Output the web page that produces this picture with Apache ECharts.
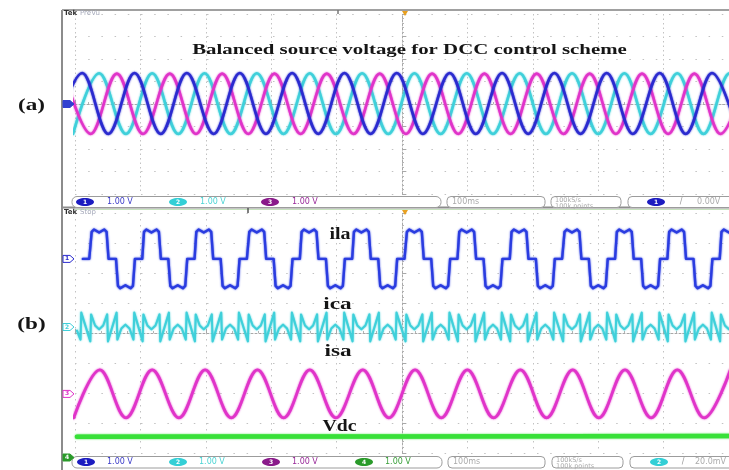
<!DOCTYPE html>
<html>
<head>
<meta charset="utf-8">
<title>DCC control scheme waveforms</title>
<script src="https://cdn.jsdelivr.net/npm/echarts@6/dist/echarts.min.js"></script>
<style>
html,body{margin:0;padding:0;background:#fff;}
#chart{width:729px;height:470px;}
</style>
</head>
<body>
<div id="chart"></div>
<script>
// Time in ms (100 ms/div); every channel at 1.00 V/div.
const timeRange = [-500, 500];
const timePerDiv = 100;
const voltRange = [-4, 4];
const voltPerDiv = 1;

// (a) balanced three-phase source voltages: successive peaks and troughs [t, V]
const vsaExtrema = [[-530,-1.33],[-489,1.38],[-449,-1.33],[-409,1.38],[-369,-1.33],[-329,1.38],[-288,-1.33],[-248,1.38],[-208,-1.33],[-168,1.38],[-128,-1.33],[-88,1.38],[-48,-1.33],[-8,1.38],[32,-1.33],[73,1.38],[113,-1.33],[153,1.38],[193,-1.33],[233,1.38],[273,-1.33],[313,1.38],[353,-1.33],[394,1.38],[434,-1.33],[474,1.38],[514,-1.33]];
const vsbExtrema = [[-503,-1.33],[-463,1.37],[-422,-1.33],[-382,1.37],[-342,-1.33],[-302,1.37],[-262,-1.33],[-222,1.37],[-181,-1.33],[-141,1.37],[-101,-1.33],[-61,1.37],[-21,-1.33],[19,1.37],[59,-1.33],[99,1.37],[139,-1.33],[180,1.37],[220,-1.33],[260,1.37],[300,-1.33],[340,1.37],[380,-1.33],[421,1.37],[461,-1.33],[501,1.37],[541,-1.33]];
const vscExtrema = [[-516,1.35],[-476,-1.33],[-436,1.35],[-396,-1.33],[-355,1.35],[-315,-1.33],[-275,1.35],[-235,-1.33],[-195,1.35],[-155,-1.33],[-115,1.35],[-74,-1.33],[-34,1.35],[6,-1.33],[46,1.35],[86,-1.33],[126,1.35],[166,-1.33],[206,1.35],[247,-1.33],[287,1.35],[327,-1.33],[367,1.35],[407,-1.33],[447,1.35],[487,-1.33],[527,1.35]];

// (b) load current: rising-edge times of each cycle and the shape of one cycle [dt, V]
const cycleStart = [-557,-476,-396,-316,-235,-155,-75,6,86,166,247,327,407,487];
const ilaShape = [[-1.5,0],[1.5,0.9],[5,0.98],[12.9,0.88],[20.8,0.98],[24.3,0.9],[27.3,0],[38.7,0],[41.7,-0.9],[45.2,-0.98],[53.1,-0.88],[61,-0.98],[64.6,-0.9],[67.6,0],[78.8,0]];
// compensating current, one cycle [dt, V]
const icaShape = [[-0.6,-0.48],[0.6,0.42],[6.7,0.05],[12.9,-0.08],[19.1,0.05],[25.2,0.42],[26.4,-0.48],[39.6,0.48],[40.8,-0.42],[46.9,-0.05],[53.1,0.08],[59.3,-0.05],[65.4,-0.42],[66.6,0.48]];
// source current peaks and troughs [t, V]
const isaExtrema = [[-502,-0.8],[-462,0.8],[-422,-0.8],[-382,0.8],[-341,-0.8],[-301,0.8],[-261,-0.8],[-221,0.8],[-181,-0.8],[-141,0.8],[-101,-0.8],[-60,0.8],[-20,-0.8],[20,0.8],[60,-0.8],[100,0.8],[140,-0.8],[181,0.8],[221,-0.8],[261,0.8],[301,-0.8],[341,0.8],[381,-0.8],[421,0.8],[462,-0.8],[502,0.8]];
// DC-link voltage [t, V]
const vdcLevel = [[-497,0.69],[-250,0.70],[0,0.70],[250,0.71],[500,0.72]];

// channel ground positions (divisions from screen centre)
const chPosA = [0, 0, 0];
const chPosB = {ila: 2.47, ica: 0.2, isa: -2.03, vdc: -4.15};

// readouts
const scaleA = ['1.00 V', '1.00 V', '1.00 V'];
const scaleB = ['1.00 V', '1.00 V', '1.00 V', '1.00 V'];
const timebase = '100ms';
const sampleInfo = ['100kS/s', '100k points'];
const triggerA = '0.00V';
const triggerB = '20.0mV';

const COL = {
  ch1: '#2b2bcf', ch2: '#3fd0da', ch3: '#e034c9', ch4: '#38e038',
  ila: '#2a3ce0', badge1: '#1c1cc0', badge2: '#34cfd6', badge3: '#8a1a8a', badge4: '#2a9a2a',
  txt1: '#3a3ac8', txt2: '#4cd4d4', txt3: '#9a2a9a', txt4: '#3aa03a'
};

function tile(starts, shape, from) {
  const out = [];
  starts.forEach(s => shape.forEach(([dt, v]) => {
    const t = s + dt;
    if (t >= from) out.push([+t.toFixed(1), v]);
  }));
  return out;
}
const shift = (pts, off) => pts.map(([t, v]) => [t, +(v + off).toFixed(3)]);

const ilaData = shift([[-488, 0]].concat(tile(cycleStart, ilaShape, -488)), chPosB.ila);
const icaData = shift([[-497, -0.12]].concat(tile(cycleStart, icaShape, -497)), chPosB.ica);
const isaData = shift(isaExtrema, chPosB.isa);
const vdcData = shift(vdcLevel, chPosB.vdc);

function xAx(gi, vStep) {
  return {
    type: 'value', gridIndex: gi, min: timeRange[0], max: timeRange[1], interval: timePerDiv,
    axisLabel: {show: false},
    axisLine: {show: true, onZero: true, lineStyle: {color: '#a8a8a8', width: 1, type: [2, 2]}},
    axisTick: {show: true, inside: true, length: 4, lineStyle: {color: '#a8a8a8'}},
    minorTick: {show: true, splitNumber: 5, length: 2, lineStyle: {color: '#b4b4b4'}},
    splitLine: {show: true, lineStyle: {color: '#c2c2c2', width: 1, type: [1.5, vStep - 1.5]}}
  };
}
function yAx(gi) {
  return {
    type: 'value', gridIndex: gi, min: voltRange[0], max: voltRange[1], interval: voltPerDiv,
    axisLabel: {show: false},
    axisLine: {show: true, onZero: true, lineStyle: {color: '#a8a8a8', width: 1, type: [2, 2]}},
    axisTick: {show: true, inside: true, length: 4, lineStyle: {color: '#a8a8a8'}},
    minorTick: {show: true, splitNumber: 5, length: 2, lineStyle: {color: '#b4b4b4'}},
    splitLine: {show: true, lineStyle: {color: '#c2c2c2', width: 1, type: [1.5, 11.7]}}
  };
}
function trace(data, color, width, gi, smooth, z) {
  return {
    type: 'line', xAxisIndex: gi, yAxisIndex: gi, data, showSymbol: false, symbol: 'none',
    smooth: smooth, clip: true, animation: false, silent: true, z: z || 3,
    lineStyle: {color, width, shadowBlur: 2, shadowColor: color, cap: 'round', join: 'round'}
  };
}

const chart = echarts.init(document.getElementById('chart'), null, {renderer: 'canvas'});
chart.setOption({
  animation: false,
  backgroundColor: '#ffffff',
  grid: [
    {left: 75, top: 14, width: 660, height: 180},
    {left: 75, top: 213, width: 660, height: 240}
  ],
  xAxis: [xAx(0, 4.5), xAx(1, 6)],
  yAxis: [yAx(0), yAx(1)],
  series: [
    trace(shift(vsbExtrema, chPosA[1]), COL.ch2, 2.6, 0, 0.36, 3),
    trace(shift(vscExtrema, chPosA[2]), COL.ch3, 2.6, 0, 0.36, 4),
    trace(shift(vsaExtrema, chPosA[0]), COL.ch1, 2.6, 0, 0.36, 5),
    trace(ilaData, COL.ila, 2.4, 1, false),
    trace(icaData, COL.ch2, 2, 1, false),
    trace(isaData, COL.ch3, 2.8, 1, 0.36),
    trace(vdcData, COL.ch4, 4.5, 1, false)
  ]
});

// ---- screen furniture: frame, readouts, channel markers, labels ----
const G = [];
const line = (x1, y1, x2, y2, stroke, w) => G.push({type: 'line', z: 50, silent: true,
  shape: {x1, y1, x2, y2}, style: {stroke, lineWidth: w}});
const rect = (x, y, w, h, r) => G.push({type: 'rect', z: 50, silent: true,
  shape: {x, y, width: w, height: h, r}, style: {fill: '#fff', stroke: '#9c9c9c', lineWidth: 1}});
const text = (x, y, s, font, fill, align, extra) => G.push(Object.assign({type: 'text', z: 60, silent: true, x, y,
  style: {text: s, font, fill, align: align || 'left', verticalAlign: 'middle',
    textAlign: align || 'left', textVerticalAlign: 'middle'}}, extra || {}));
const badge = (cx, cy, n, fill) => {
  G.push({type: 'ellipse', z: 55, silent: true, shape: {cx, cy, rx: 9, ry: 4}, style: {fill}});
  text(cx, cy, String(n), 'bold 6px "DejaVu Sans"', '#fff', 'center');
};

// frame
line(62, 10, 62, 470, '#8c8c8c', 2);
line(62, 10, 729, 10, '#a0a0a0', 2);
line(62, 207.5, 729, 207.5, '#8c8c8c', 2);
line(75, 209.5, 729, 209.5, '#c6e2bd', 1);
// header tags
text(64, 13, 'Tek', 'bold 7px "DejaVu Sans"', '#333');
text(80, 13, 'PreVu', '7px "DejaVu Sans"', '#a6aabb');
text(64, 212, 'Tek', 'bold 7px "DejaVu Sans"', '#333');
text(80, 212, 'Stop', '7px "DejaVu Sans"', '#a6aabb');
// trigger position markers
[[405, 11], [405, 210]].forEach(([x, y]) => G.push({type: 'polygon', z: 55, silent: true,
  shape: {points: [[x - 3, y], [x + 3, y], [x, y + 5]]}, style: {fill: '#e8a020'}}));
line(338, 10, 338, 14, '#777', 1.5);
line(248, 208, 248, 213, '#555', 1.5);

// readout bar (a)
rect(72, 196.5, 369, 11, 5); rect(447, 196.5, 98, 11, 4); rect(551, 196.5, 70, 11, 4); rect(628, 196.5, 110, 11, 4);
[[85, COL.badge1, COL.txt1], [178, COL.badge2, COL.txt2], [270, COL.badge3, COL.txt3]].forEach(([x, b, c], i) => {
  badge(x, 202, i + 1, b);
  text(x + 22, 202, scaleA[i], '8px "DejaVu Sans"', c);
});
text(452, 202, timebase, '8px "DejaVu Sans"', '#ababab');
text(555, 200, sampleInfo[0], '6.5px "DejaVu Sans"', '#ababab');
text(555, 206, sampleInfo[1], '6.5px "DejaVu Sans"', '#ababab');
badge(656, 202, 1, COL.badge1);
text(681, 202, '/', '8px "DejaVu Sans"', '#999', 'center');
text(697, 202, triggerA, '8px "DejaVu Sans"', '#ababab');

// readout bar (b)
rect(72, 456.5, 370, 11.5, 5); rect(448, 456.5, 97, 11.5, 4); rect(552, 456.5, 71, 11.5, 4); rect(630, 456.5, 110, 11.5, 4);
[[86, COL.badge1, COL.txt1], [178, COL.badge2, COL.txt2], [271, COL.badge3, COL.txt3], [364, COL.badge4, COL.txt4]].forEach(([x, b, c], i) => {
  badge(x, 462, i + 1, b);
  text(x + 21, 462, scaleB[i], '8px "DejaVu Sans"', c);
});
text(453, 462, timebase, '8px "DejaVu Sans"', '#ababab');
text(556, 460, sampleInfo[0], '6.5px "DejaVu Sans"', '#ababab');
text(556, 466, sampleInfo[1], '6.5px "DejaVu Sans"', '#ababab');
badge(659, 462, 2, COL.badge2);
text(683, 462, '/', '8px "DejaVu Sans"', '#999', 'center');
text(695, 462, triggerB, '8px "DejaVu Sans"', '#ababab');

// channel ground markers, placed through the axes
const gY = (gi, v) => chart.convertToPixel({xAxisIndex: gi, yAxisIndex: gi}, [0, v])[1];
const marker = (y, n, color, filled) => {
  G.push({type: 'polygon', z: 55, silent: true,
    shape: {points: [[63, y - 3.5], [70, y - 3.5], [74, y], [70, y + 3.5], [63, y + 3.5]]},
    style: {fill: filled ? color : '#fff', stroke: color, lineWidth: 1}});
  if (n) text(67, y, String(n), 'bold 6px "DejaVu Sans"', filled ? '#fff' : color, 'center');
};
marker(gY(0, chPosA[0]), '', '#3040d0', true);
marker(gY(1, chPosB.ila), 1, COL.ch1, false);
marker(gY(1, chPosB.ica), 2, COL.ch2, false);
marker(gY(1, chPosB.isa), 3, COL.ch3, false);
marker(Math.min(gY(1, chPosB.vdc), 458), 4, COL.badge4, true);

// annotations
const serif = s => 'bold ' + s + 'px "Liberation Serif", "DejaVu Serif", serif';
text(409.5, 50, 'Balanced source voltage for DCC control scheme', serif(15), '#151515', 'center', {scaleX: 1.39});
text(31.5, 106, '(a)', serif(17), '#151515', 'center', {scaleX: 1.36});
text(31.5, 325, '(b)', serif(17), '#151515', 'center', {scaleX: 1.36});
text(340, 235, 'ila', serif(16), '#151515', 'center', {scaleX: 1.25});
text(337.5, 304.5, 'ica', serif(16), '#151515', 'center', {scaleX: 1.45});
text(338, 352, 'isa', serif(16), '#151515', 'center', {scaleX: 1.45});
text(339.5, 426.5, 'Vdc', serif(16), '#151515', 'center', {scaleX: 1.23});

chart.setOption({graphic: G});
</script>
</body>
</html>
